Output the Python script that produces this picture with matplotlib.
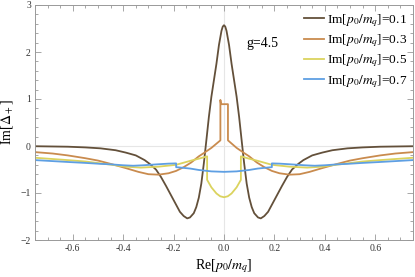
import matplotlib
matplotlib.use("Agg")
import matplotlib.pyplot as plt
from matplotlib.ticker import MultipleLocator

plt.rcParams['font.family'] = ['Liberation Serif', 'DejaVu Serif']
plt.rcParams['mathtext.fontset'] = 'stix'

# Im[p0/mq] = 0.1
x_01 = [-0.75, -0.62, -0.55, -0.49, -0.43, -0.39, -0.35, -0.315, -0.295, -0.27,
        -0.25, -0.23, -0.21, -0.19, -0.175, -0.16, -0.146, -0.135, -0.12, -0.11,
        -0.10, -0.09, -0.08, -0.07, -0.06, -0.05, -0.04, -0.03, -0.02, -0.01,
        -0.005, 0.0, 0.005, 0.01, 0.02, 0.03, 0.04, 0.05, 0.06, 0.07, 0.08, 0.09,
        0.10, 0.11, 0.12, 0.135, 0.146, 0.16, 0.175, 0.19, 0.21, 0.23, 0.25,
        0.27, 0.295, 0.315, 0.35, 0.39, 0.43, 0.49, 0.55, 0.62, 0.75]
y_01 = [-0.005, -0.015, -0.03, -0.05, -0.09, -0.14, -0.20, -0.30, -0.38, -0.50,
        -0.66, -0.85, -1.05, -1.25, -1.40, -1.49, -1.54, -1.52, -1.43, -1.30,
        -1.10, -0.80, -0.37, 0.12, 0.62, 1.05, 1.40, 1.75, 2.15, 2.45,
        2.54, 2.57, 2.54, 2.45, 2.15, 1.75, 1.40, 1.05, 0.62, 0.12, -0.37, -0.80,
        -1.10, -1.30, -1.43, -1.52, -1.54, -1.49, -1.40, -1.25, -1.05, -0.85, -0.66,
        -0.50, -0.38, -0.30, -0.20, -0.14, -0.09, -0.05, -0.03, -0.015, -0.005]

# Im[p0/mq] = 0.3
x_03 = [-0.75, -0.68, -0.62, -0.55, -0.50, -0.45, -0.39, -0.34, -0.30, -0.26,
        -0.22, -0.19, -0.16, -0.13, -0.10, -0.08, -0.05, -0.0143, -0.0143, -0.012,
        0.0157, 0.0157, 0.05, 0.08, 0.10, 0.13, 0.16, 0.19, 0.22, 0.26, 0.30,
        0.34, 0.39, 0.45, 0.50, 0.55, 0.62, 0.68, 0.75]
y_03 = [-0.13, -0.16, -0.20, -0.26, -0.31, -0.38, -0.47, -0.55, -0.60, -0.61,
        -0.58, -0.53, -0.45, -0.35, -0.22, -0.15, -0.04, 0.12, 0.98, 0.89,
        0.89, 0.12, -0.04, -0.15, -0.22, -0.35, -0.45, -0.53, -0.58, -0.61, -0.60,
        -0.55, -0.47, -0.38, -0.31, -0.26, -0.20, -0.16, -0.13]

# Im[p0/mq] = 0.5
x_05 = [-0.75, -0.62, -0.55, -0.49, -0.43, -0.39, -0.33, -0.26, -0.19, -0.13,
        -0.10, -0.067, -0.067, -0.05, -0.03, -0.015, 0.0, 0.015, 0.03, 0.05,
        0.067, 0.067, 0.10, 0.13, 0.19, 0.26, 0.33, 0.39, 0.43, 0.49, 0.55,
        0.62, 0.75]
y_05 = [-0.25, -0.30, -0.33, -0.37, -0.41, -0.44, -0.46, -0.44, -0.40, -0.31,
        -0.27, -0.22, -0.72, -0.88, -1.01, -1.07, -1.09, -1.07, -1.01, -0.88,
        -0.72, -0.22, -0.27, -0.31, -0.40, -0.44, -0.46, -0.44, -0.41, -0.37, -0.33,
        -0.30, -0.25]

# Im[p0/mq] = 0.7
x_07 = [-0.75, -0.62, -0.55, -0.49, -0.45, -0.40, -0.36, -0.32, -0.265, -0.22,
        -0.19, -0.19, -0.17, -0.134, -0.10, -0.05, 0.0, 0.05, 0.10, 0.134, 0.17,
        0.19, 0.19, 0.22, 0.265, 0.32, 0.36, 0.40, 0.45, 0.49, 0.55, 0.62, 0.75]
y_07 = [-0.30, -0.34, -0.36, -0.38, -0.39, -0.41, -0.42, -0.41, -0.39, -0.375,
        -0.37, -0.45, -0.46, -0.48, -0.51, -0.54, -0.55, -0.54, -0.51, -0.48, -0.46,
        -0.45, -0.37, -0.375, -0.39, -0.41, -0.42, -0.41, -0.39, -0.38, -0.36, -0.34, -0.30]

series = [(x_01, y_01, '0.1', '#63503a'),
          (x_03, y_03, '0.3', '#c98b4e'),
          (x_05, y_05, '0.5', '#dbd35e'),
          (x_07, y_07, '0.7', '#5e9fe3')]

fig = plt.figure(figsize=(4.15, 2.77), dpi=100)
ax = fig.add_axes([35/415, 37/277, 378/415, 235/277])

ax.axhline(0, color='#e6e6e6', lw=0.8, zorder=0)
ax.axvline(0, color='#e6e6e6', lw=0.8, zorder=0)

for xs, ys, lab, c in series:
    ax.plot(xs, ys, color=c, lw=1.3, label=r'Im[$p_0/m_q$]=' + lab)

ax.set_xlim(-0.75, 0.75)
ax.set_ylim(-2, 3)
ax.xaxis.set_minor_locator(MultipleLocator(0.05))
ax.yaxis.set_major_locator(MultipleLocator(1))
ax.yaxis.set_minor_locator(MultipleLocator(0.2))
ax.set_xticks([-0.6, -0.4, -0.2, 0.0, 0.2, 0.4, 0.6])
ax.set_xticklabels(['-0.6', '-0.4', '-0.2', '0.0', '0.2', '0.4', '0.6'])
ax.tick_params(which='both', direction='in', top=True, right=True,
               color='#999999', labelsize=7, labelcolor='#333333', width=0.6)
ax.tick_params(which='major', length=4, pad=3)
ax.tick_params(which='minor', length=2)
for s in ax.spines.values():
    s.set_color('#999999')
    s.set_linewidth(0.7)

ax.set_xlabel(r'Re[$p_0/m_q$]', fontsize=10, labelpad=3)
ax.set_ylabel(r'Im[$\Delta_+$]', fontsize=10, labelpad=3)

ax.text(0.089, 2.19, 'g=4.5', fontsize=10, va='center', ha='left')

ax.legend(loc='upper left', bbox_to_anchor=(0.683, 1.015), frameon=False,
          fontsize=9.6, handlelength=1.5, handletextpad=0.22, labelspacing=0.27,
          borderpad=0.3)

fig.savefig('out.png', dpi=100)
